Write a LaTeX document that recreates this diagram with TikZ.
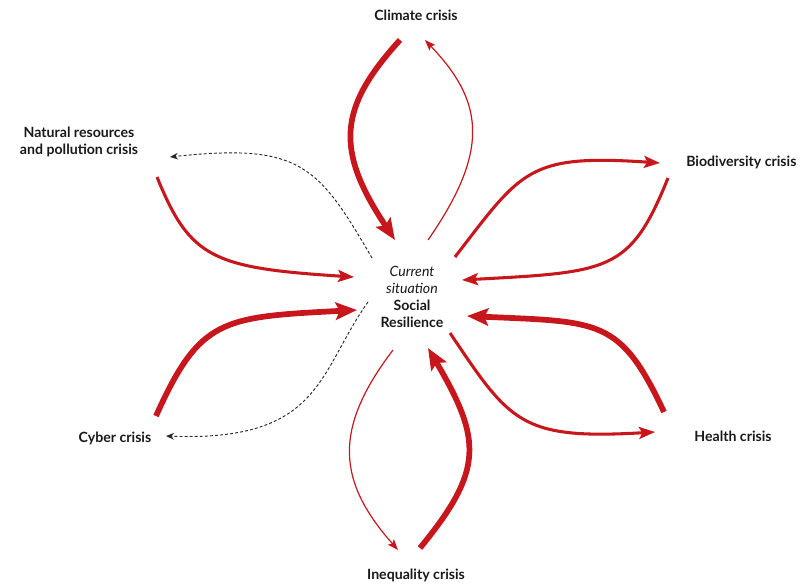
\documentclass[tikz,border=0pt]{standalone}
\usepackage{fontspec}
\setmainfont{Lato}
\usetikzlibrary{arrows.meta}
\definecolor{crisisred}{RGB}{200,22,29}
\tikzset{
  lbl/.style={font=\bfseries\fontsize{10.6}{12.6}\selectfont, text=black!90, align=center, inner sep=0pt},
  thickarr/.style={draw=crisisred, line width=4.3pt, -{Stealth[length=16pt,width=13pt,inset=3pt]}},
  medarr/.style={draw=crisisred, line width=2.3pt, -{Stealth[length=12pt,width=9pt,inset=2.5pt]}},
  thinarr/.style={draw=crisisred, line width=0.9pt, -{Stealth[length=8pt,width=6pt,inset=1.5pt]}},
  dasharr/.style={draw=black!85, line width=0.7pt, dash pattern=on 2.2pt off 1.6pt, -{Stealth[length=6pt,width=5pt]}},
}
\begin{document}
\begin{tikzpicture}[x=0.75pt,y=-0.75pt]
\useasboundingbox (0,0) rectangle (802,585);
% labels
\node[lbl] (climate) at (416,15) {Climate crisis};
\node[lbl] (natural) at (79,142) {Natural resources\\and pollution crisis};
\node[lbl, anchor=west] (bio) at (686,162) {Biodiversity crisis};
\node[lbl] (cyber) at (115,438) {Cyber crisis};
\node[lbl] (health) at (733,436) {Health crisis};
\node[lbl] (inequality) at (416,575) {Inequality crisis};
\node[font=\fontsize{10.6}{12.6}\selectfont, align=center, inner sep=0pt, text=black!90] (centre) at (412,297)
  {\itshape Current\\\itshape situation\\\bfseries Social\\\bfseries Resilience};
% endpoints
\coordinate (c1s) at (400,40); \coordinate (c1e) at (395,240);
\coordinate (c2s) at (428,240); \coordinate (c2e) at (425,40);
\coordinate (n1s) at (372,258); \coordinate (n1e) at (170,157);
\coordinate (n2s) at (157,177); \coordinate (n2e) at (354,277);
\coordinate (b1s) at (455,257); \coordinate (b1e) at (660,163);
\coordinate (b2s) at (668,178); \coordinate (b2e) at (462,280);
\coordinate (y1s) at (156,416); \coordinate (y1e) at (357,310);
\coordinate (y2s) at (368,302); \coordinate (y2e) at (166,436);
\coordinate (h1s) at (664,412); \coordinate (h1e) at (467,316);
\coordinate (h2s) at (450,333); \coordinate (h2e) at (655,432);
\coordinate (i1s) at (420,548); \coordinate (i1e) at (428,348);
\coordinate (i2s) at (393,350); \coordinate (i2e) at (398,550);
% connectors
\draw[thickarr] (c1s) .. controls (338,108) and (335,150) .. (c1e);
\draw[thinarr] (c2s) .. controls (492,148) and (482,100) .. (c2e);
\draw[dasharr] (n1s) .. controls (318,165) and (300,143) .. (n1e);
\draw[medarr] (n2s) .. controls (190,258) and (212,268) .. (n2e);
\draw[medarr] (b1s) .. controls (522,170) and (528,154) .. (b1e);
\draw[medarr] (b2s) .. controls (630,272) and (610,272) .. (b2e);
\draw[thickarr] (y1s) .. controls (200,318) and (222,317) .. (y1e);
\draw[dasharr] (y2s) .. controls (318,372) and (322,442) .. (y2e);
\draw[thickarr] (h1s) .. controls (620,318) and (600,322) .. (h1e);
\draw[medarr] (h2s) .. controls (510,422) and (520,440) .. (h2e);
\draw[thickarr] (i1s) .. controls (484,470) and (482,440) .. (i1e);
\draw[thinarr] (i2s) .. controls (332,430) and (338,482) .. (i2e);
\end{tikzpicture}
\end{document}
